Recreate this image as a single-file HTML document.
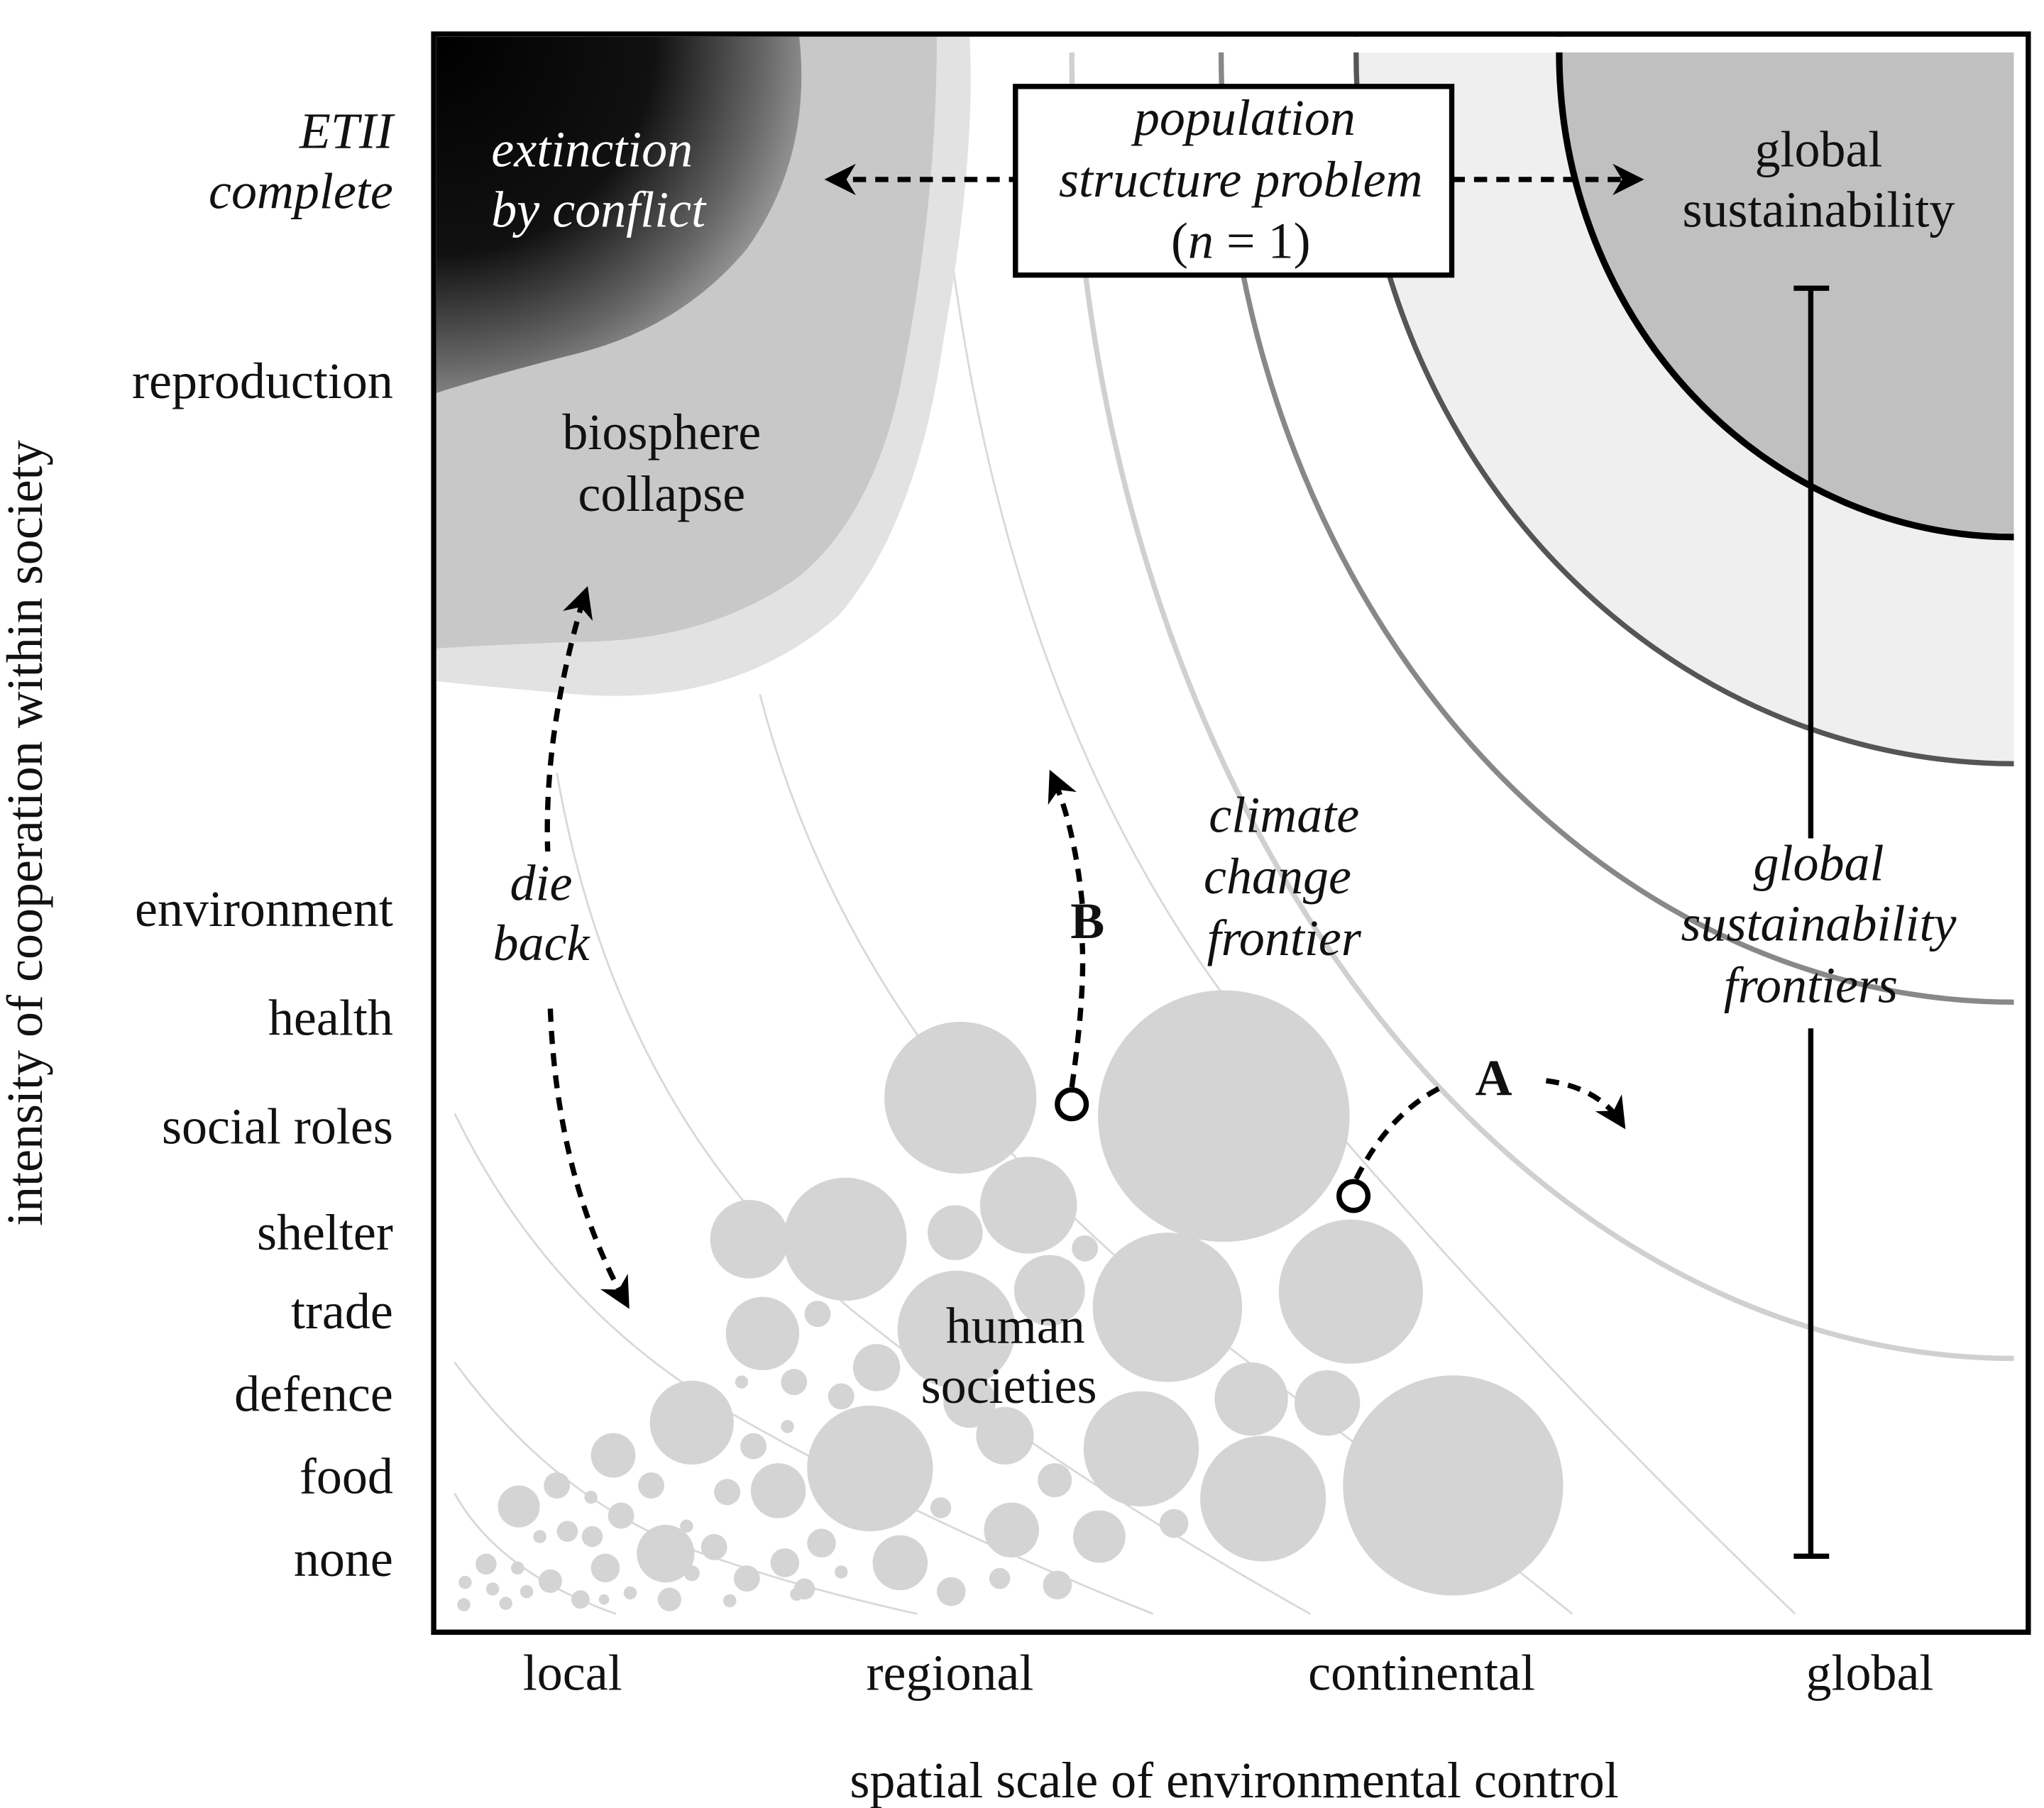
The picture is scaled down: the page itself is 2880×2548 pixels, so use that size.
<!DOCTYPE html>
<html><head><meta charset="utf-8"><style>
html,body{margin:0;padding:0;background:#fff}
svg{display:block}
text{font-family:"Liberation Serif",serif;font-size:39px;fill:#111}
.i{font-style:italic}
</style></head><body>
<svg width="2880" height="2548" viewBox="0 0 1560 1380.2" preserveAspectRatio="none" xmlns="http://www.w3.org/2000/svg">
<defs>
<radialGradient id="blk" cx="335" cy="30" r="330" gradientUnits="userSpaceOnUse">
<stop offset="0" stop-color="#000"/><stop offset="0.5" stop-color="#111"/><stop offset="0.75" stop-color="#666"/><stop offset="1" stop-color="#c8c8c8"/>
</radialGradient>
<clipPath id="fr"><rect x="333" y="28" width="1213" height="1216"/></clipPath>
<marker id="ah" viewBox="0 0 10 10" refX="8" refY="5" markerWidth="6" markerHeight="6" orient="auto-start-reverse"><path d="M0,0 L10,5 L0,10 L3,5 Z" fill="#000"/></marker>
</defs>
<g clip-path="url(#fr)">
<ellipse cx="1537" cy="40" rx="502" ry="543" fill="#efefef" stroke="#555" stroke-width="4"/>
<ellipse cx="1537" cy="40" rx="605" ry="725" fill="none" stroke="#888" stroke-width="4"/>
<ellipse cx="1537" cy="40" rx="719" ry="997" fill="none" stroke="#d0d0d0" stroke-width="4"/>
<ellipse cx="1537" cy="40" rx="347" ry="370" fill="#c0c0c0" stroke="#000" stroke-width="5"/>
<rect x="1537" y="28" width="20" height="1220" fill="#fff"/>
<rect x="333" y="28" width="1213" height="12" fill="#fff"/>
<g fill="none" stroke="#d8d8d8" stroke-width="1.5">
<path d="M712,40 Q740,560 1000,840 Q1180,1050 1370,1232"/>
<path d="M580,530 Q650,800 900,1000 Q1060,1120 1200,1232"/>
<path d="M425,590 Q470,850 650,1000 Q800,1120 1000,1232"/>
<path d="M347,850 Q420,1000 560,1080 Q700,1160 880,1232"/>
<path d="M347,1040 Q420,1140 520,1180 Q600,1210 700,1232"/>
<path d="M347,1140 Q380,1200 470,1232"/>
</g>
<path d="M333,28 L740,28 Q745,120 720,260 Q700,400 640,470 Q560,540 440,530 Q380,525 333,520 Z" fill="#e2e2e2"/>
<path d="M333,28 L715,28 Q715,150 690,280 Q670,390 610,440 Q540,490 440,490 Q380,492 333,495 Z" fill="#c8c8c8"/>
<path d="M333,28 L610,28 Q620,120 570,190 Q520,250 440,270 Q380,285 333,300 Z" fill="url(#blk)"/>
<g fill="#d4d4d4">
<circle cx="934" cy="852" r="96"/><circle cx="733" cy="838" r="58"/><circle cx="645" cy="946" r="47"/><circle cx="785" cy="920" r="37"/><circle cx="572" cy="946" r="30"/><circle cx="729" cy="941" r="21"/><circle cx="891" cy="998" r="57"/><circle cx="1031" cy="986" r="55"/><circle cx="801" cy="985" r="27"/><circle cx="828" cy="953" r="10"/><circle cx="730" cy="1015" r="45"/><circle cx="582" cy="1018" r="28"/><circle cx="624" cy="1003" r="10"/><circle cx="669" cy="1044" r="18"/><circle cx="606" cy="1055" r="10"/><circle cx="566" cy="1055" r="5"/><circle cx="528" cy="1086" r="32"/><circle cx="664" cy="1121" r="48"/><circle cx="601" cy="1089" r="5"/><circle cx="740" cy="1070" r="20"/><circle cx="767" cy="1096" r="22"/><circle cx="642" cy="1066" r="10"/><circle cx="871" cy="1106" r="44"/><circle cx="955" cy="1068" r="28"/><circle cx="1013" cy="1071" r="25"/><circle cx="964" cy="1144" r="48"/><circle cx="1109" cy="1134" r="84"/><circle cx="468" cy="1111" r="17"/><circle cx="575" cy="1104" r="10"/><circle cx="594" cy="1138" r="21"/><circle cx="425" cy="1134" r="10"/><circle cx="396" cy="1150" r="16"/><circle cx="451" cy="1143" r="5"/><circle cx="474" cy="1157" r="10"/><circle cx="497" cy="1134" r="10"/><circle cx="524" cy="1165" r="5"/><circle cx="555" cy="1139" r="10"/><circle cx="412" cy="1173" r="5"/><circle cx="433" cy="1169" r="8"/><circle cx="452" cy="1173" r="8"/><circle cx="508" cy="1186" r="22"/><circle cx="545" cy="1181" r="10"/><circle cx="627" cy="1178" r="11"/><circle cx="718" cy="1151" r="8"/><circle cx="772" cy="1168" r="21"/><circle cx="805" cy="1130" r="13"/><circle cx="839" cy="1173" r="20"/><circle cx="896" cy="1163" r="11"/><circle cx="687" cy="1193" r="21"/><circle cx="371" cy="1194" r="8"/><circle cx="395" cy="1197" r="5"/><circle cx="420" cy="1207" r="9"/><circle cx="462" cy="1197" r="11"/><circle cx="528" cy="1201" r="6"/><circle cx="570" cy="1205" r="10"/><circle cx="599" cy="1193" r="11"/><circle cx="614" cy="1213" r="8"/><circle cx="642" cy="1200" r="5"/><circle cx="355" cy="1208" r="5"/><circle cx="376" cy="1213" r="5"/><circle cx="402" cy="1215" r="5"/><circle cx="443" cy="1221" r="7"/><circle cx="461" cy="1221" r="4"/><circle cx="481" cy="1216" r="5"/><circle cx="511" cy="1221" r="9"/><circle cx="557" cy="1222" r="5"/><circle cx="608" cy="1217" r="5"/><circle cx="726" cy="1215" r="11"/><circle cx="763" cy="1205" r="8"/><circle cx="807" cy="1210" r="11"/><circle cx="354" cy="1225" r="5"/><circle cx="386" cy="1224" r="5"/>
</g>
</g>
<rect x="331" y="26" width="1217" height="1220" fill="none" stroke="#000" stroke-width="4"/>
<g stroke="#000" stroke-width="4">
<line x1="1382" y1="220" x2="1382" y2="640"/><line x1="1382" y1="785" x2="1382" y2="1188"/>
<line x1="1369" y1="220" x2="1396" y2="220"/><line x1="1369" y1="1188" x2="1396" y2="1188"/>
</g>
<rect x="775" y="66" width="333" height="144" fill="#fff" stroke="#000" stroke-width="4"/>
<g fill="none" stroke="#000" stroke-width="4" stroke-dasharray="10,7">
<line x1="634" y1="137" x2="775" y2="137" marker-start="url(#ah)"/>
<line x1="1108" y1="137" x2="1250" y2="137" marker-end="url(#ah)"/>
<path d="M445,458 Q415,560 418,650 M420,770 Q425,900 478,995" marker-end="url(#ah)"/>
<path d="M447,452 L445,458" marker-start="url(#ah)"/>
<path d="M818,830 Q828,760 826,720 M826,690 Q820,630 803,592" marker-end="url(#ah)"/>
<path d="M1035,900 Q1060,850 1100,830 M1180,825 Q1220,830 1238,858" marker-end="url(#ah)"/>
</g>
<circle cx="818" cy="843" r="11" fill="#fff" stroke="#000" stroke-width="4"/>
<circle cx="1033" cy="913" r="11" fill="#fff" stroke="#000" stroke-width="4"/>
<g text-anchor="end">
<text x="300" y="113" class="i">ETII</text><text x="300" y="159" class="i">complete</text>
<text x="300" y="304">reproduction</text><text x="300" y="707">environment</text><text x="300" y="790">health</text><text x="300" y="873">social roles</text><text x="300" y="954">shelter</text><text x="300" y="1014">trade</text><text x="300" y="1077">defence</text><text x="300" y="1140">food</text><text x="300" y="1203">none</text>
</g>
<g text-anchor="middle">
<text x="437" y="1290">local</text><text x="725" y="1290">regional</text><text x="1085" y="1290">continental</text><text x="1427" y="1290">global</text>
<text x="942" y="1372">spatial scale of environmental control</text>
<text transform="translate(32,636) rotate(-90)">intensity of cooperation within society</text>
<text x="950" y="103" class="i">population</text><text x="947" y="150" class="i">structure problem</text><text x="947" y="197">(<tspan class="i">n</tspan> = 1)</text>
<text x="505" y="343">biosphere</text><text x="505" y="390">collapse</text>
<text x="1388" y="127">global</text><text x="1388" y="173">sustainability</text>
<text x="1388" y="672" class="i">global</text><text x="1388" y="718" class="i">sustainability</text><text x="1382" y="765" class="i">frontiers</text>
<text x="980" y="635" class="i">climate</text><text x="975" y="682" class="i">change</text><text x="980" y="729" class="i">frontier</text>
<text x="413" y="687" class="i">die</text><text x="413" y="733" class="i">back</text>
<text x="775" y="1025">human</text><text x="770" y="1071">societies</text>
<text x="830" y="716" font-weight="bold">B</text><text x="1140" y="836" font-weight="bold">A</text>
</g>
<text x="375" y="127" class="i" style="fill:#fff">extinction</text><text x="375" y="173" class="i" style="fill:#fff">by conflict</text>
</svg>
</body></html>
